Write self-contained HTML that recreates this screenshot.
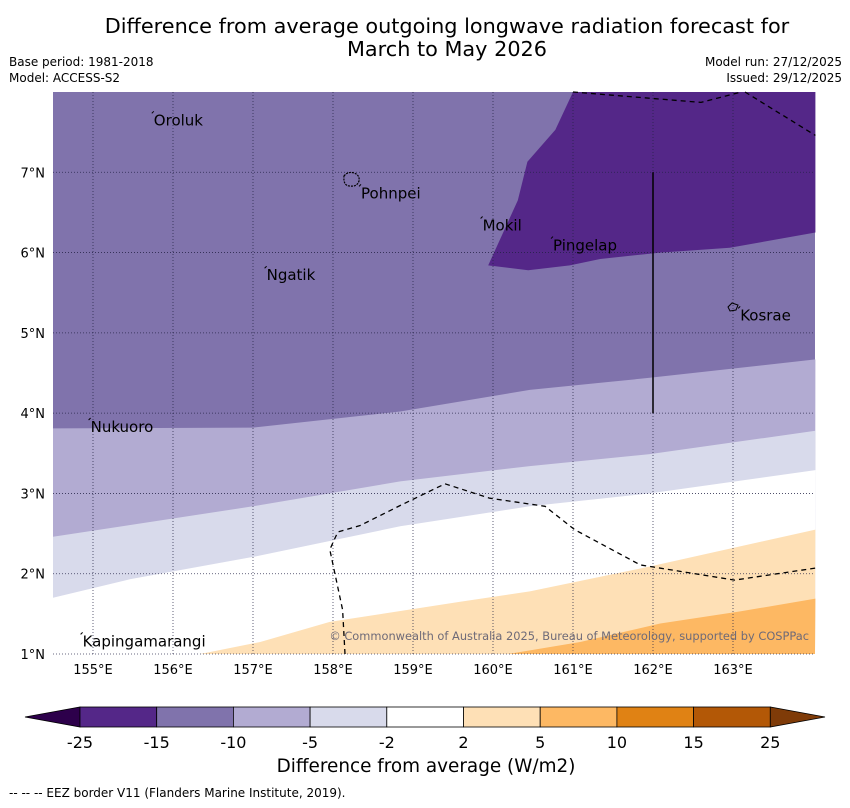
<!DOCTYPE html>
<html><head><meta charset="utf-8"><style>
body{margin:0;background:#fff;font-family:"DejaVu Sans","Liberation Sans",sans-serif;}
svg text{font-family:"DejaVu Sans","Liberation Sans",sans-serif;}
</style></head><body>
<svg id="c" width="850" height="804" viewBox="0 0 850 804" xmlns="http://www.w3.org/2000/svg">
<text x="447" y="33" font-size="20.8" text-anchor="middle">Difference from average outgoing longwave radiation forecast for</text>
<text x="447" y="56" font-size="20.8" text-anchor="middle">March to May 2026</text>
<text x="9" y="66" font-size="12">Base period: 1981-2018</text>
<text x="9" y="82" font-size="12">Model: ACCESS-S2</text>
<text x="842" y="66" font-size="12" text-anchor="end">Model run: 27/12/2025</text>
<text x="842" y="82" font-size="12" text-anchor="end">Issued: 29/12/2025</text>
<g id="map"></g>
<g id="cb"></g>
<text x="426" y="772" font-size="18.4" text-anchor="middle">Difference from average (W/m2)</text>
<text x="9" y="797" font-size="12">--  --  -- EEZ border V11 (Flanders Marine Institute, 2019).</text>
</svg>
<script>
const NS="http://www.w3.org/2000/svg";
const lonTicks=[155,156,157,158,159,160,161,162,163];
const latTicks=[1,2,3,4,5,6,7];
const lonMin=154.5,lonMax=164.025,latMin=1,latMax=8;
const bndMidLight=[[154.5,3.81],[157,3.82],[158.84,4.02],[160.46,4.29],[161.96,4.44],[164.03,4.67]];
const bndLightLighter=[[154.5,2.46],[157,2.84],[158.84,3.15],[160.46,3.34],[161.96,3.49],[164.03,3.78]];
const bndLighterWhite=[[154.5,1.70],[155.46,1.93],[157,2.21],[158.84,2.59],[160.46,2.84],[161.96,3.0],[164.03,3.29]];
const bndWhiteOrange=[[156.34,1.0],[157.09,1.15],[157.96,1.4],[159.59,1.65],[160.46,1.78],[161.96,2.09],[164.03,2.55]];
const bndOrangeMid=[[160.19,1.0],[161.09,1.15],[162.09,1.38],[163.09,1.53],[164.03,1.69]];
const darkRegion=[[161.0,8.0],[160.78,7.53],[160.43,7.13],[160.31,6.65],[159.94,5.84],[160.44,5.78],[160.96,5.84],[161.34,5.92],[162.09,6.0],[162.96,6.06],[164.03,6.25],[164.03,8.0]];
const eezTop1=[[161.0,8.0],[162.6,7.87],[163.1,8.0]];
const eezTop2=[[163.15,8.0],[164.03,7.46]];
const eezSouth=[[158.15,1.0],[158.12,1.55],[157.96,2.3],[158.06,2.52],[158.34,2.6],[158.84,2.85],[159.4,3.12],[159.96,2.94],[160.65,2.84],[161.02,2.55],[161.84,2.11],[163.02,1.92],[164.03,2.07]];
const eezLine=[[162.0,7.0],[162.0,4.0]];
const places=[["Oroluk",155.76,7.66],["Pohnpei",158.35,6.75],["Mokil",159.87,6.35],["Pingelap",160.75,6.1],["Ngatik",157.17,5.73],["Kosrae",163.09,5.23],["Nukuoro",154.97,3.84],["Kapingamarangi",154.87,1.17]];
const cbBounds=["-25","-15","-10","-5","-2","2","5","10","15","25"];
const cbColors=["#542788","#8073ac","#b2abd2","#d8daeb","#ffffff","#fee0b6","#fdb863","#e08214","#b35806"];
const X0=53,X1=815,Y0=92,Y1=654;
const xs=l=>X0+(l-lonMin)/(lonMax-lonMin)*(X1-X0);
const ys=l=>Y1-(l-latMin)/(latMax-latMin)*(Y1-Y0);
const map=document.getElementById('map');
function el(t,a,p){const e=document.createElementNS(NS,t);for(const k in a)e.setAttribute(k,a[k]);(p||map).appendChild(e);return e;}
const pts=a=>a.map(p=>xs(p[0]).toFixed(1)+','+ys(p[1]).toFixed(1)).join(' ');
let r=el('rect',{x:X0,y:Y0,width:X1-X0,height:Y1-Y0,fill:'#8073ac'});


function band(b,fill,name){const poly=b.concat([[lonMax,latMin],[lonMin,latMin]]);const p=el('polygon',{points:pts(poly),fill:fill});

}
band(bndMidLight,'#b2abd2','band-minus10-minus5');
band(bndLightLighter,'#d8daeb','band-minus5-minus2');
band(bndLighterWhite,'#ffffff','band-neutral');
band(bndWhiteOrange,'#fee0b6','band-2-5');
band(bndOrangeMid,'#fdb863','band-5-10');
let d=el('polygon',{points:pts(darkRegion),fill:'#542788'});


lonTicks.forEach(l=>{const g=el('line',{x1:xs(l),x2:xs(l),y1:Y0,y2:Y1,stroke:'#222244','stroke-width':0.8,'stroke-dasharray':'1,2',opacity:0.9});


const t=el('text',{x:xs(l),y:Y1+20,'font-size':13,'text-anchor':'middle'});t.textContent=l+'°E';

});
latTicks.forEach(l=>{const g=el('line',{x1:X0,x2:X1,y1:ys(l),y2:ys(l),stroke:'#222244','stroke-width':0.8,'stroke-dasharray':'1,2',opacity:0.9});


const t=el('text',{x:X0-8,y:ys(l)+5,'font-size':13,'text-anchor':'end'});t.textContent=l+'°N';

});
[eezTop1,eezTop2,eezSouth].forEach(a=>{const p=el('polyline',{points:pts(a),fill:'none',stroke:'#000','stroke-width':1.3,'stroke-dasharray':'5,4'});

});
let v=el('polyline',{points:pts(eezLine),fill:'none',stroke:'#000','stroke-width':1.5});


let pi=el('path',{d:'M344,176 q4,-5 10,-3 q6,2 5,8 q-2,6 -9,5 q-7,0 -6,-10z',fill:'none',stroke:'#000','stroke-width':1.2,'stroke-dasharray':'2,1'});


let ko=el('path',{d:'M728,307 l4,-4 l6,2 l-2,5 l-6,1z',fill:'none',stroke:'#000','stroke-width':1});


places.forEach(p=>{const t=el('text',{x:xs(p[1]),y:ys(p[2])+6,'font-size':15});t.textContent=p[0];


const m=el('line',{x1:xs(p[1])-2,y1:ys(p[2])-6,x2:xs(p[1]),y2:ys(p[2])-8,stroke:'#000','stroke-width':1});

});
let cp=el('text',{x:X1-6,y:640,'font-size':11.4,'text-anchor':'end',fill:'#6e6a78'});cp.textContent='© Commonwealth of Australia 2025, Bureau of Meteorology, supported by COSPPac';


const cb=document.getElementById('cb');
const CX0=80,CW=76.7,CY=707,CH=20;
let la=el('polygon',{points:`${CX0},${CY} ${CX0},${CY+CH} 25,${CY+CH/2}`,fill:'#2d004b',stroke:'#000','stroke-width':0.8},cb);


cbColors.forEach((c,i)=>{const s=el('rect',{x:CX0+i*CW,y:CY,width:CW,height:CH,fill:c,stroke:'#000','stroke-width':0.8},cb);

});
const CEnd=CX0+cbColors.length*CW;
let ra=el('polygon',{points:`${CEnd},${CY} ${CEnd},${CY+CH} 825,${CY+CH/2}`,fill:'#7f3b08',stroke:'#000','stroke-width':0.8},cb);


cbBounds.forEach((b,i)=>{const t=el('text',{x:CX0+i*CW,y:CY+CH+21,'font-size':16,'text-anchor':'middle'},cb);t.textContent=b;

});
</script>
</body></html>
